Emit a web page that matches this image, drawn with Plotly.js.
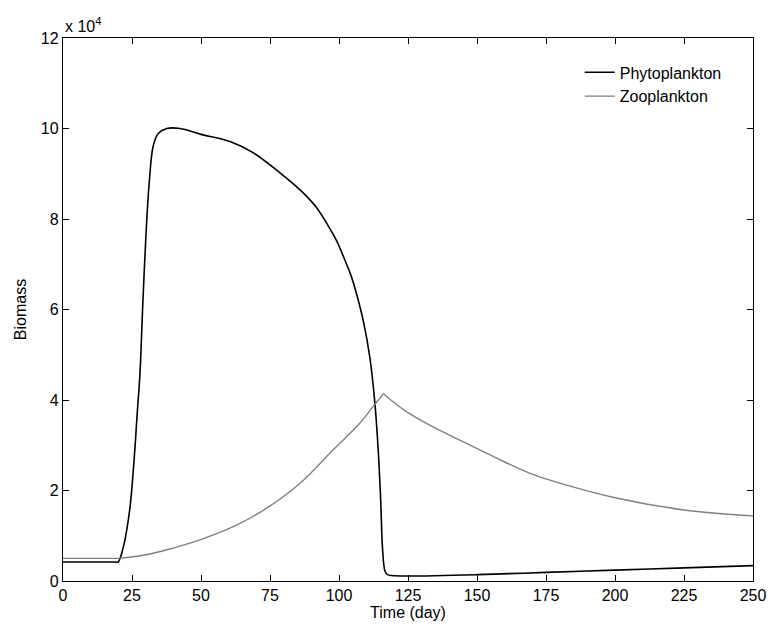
<!DOCTYPE html>
<html>
<head>
<meta charset="utf-8">
<script src="https://cdn.plot.ly/plotly-3.0.1.min.js"></script>
<style>html,body{margin:0;padding:0;background:#fff;}#chart{width:770px;height:626px;}</style>
</head>
<body>
<div id="chart"></div>
<script>
// Biomass values in units of 10^4
const phytoDays = [0, 19, 20, 21.9, 23.1, 24.3, 25.2, 26.1, 26.9, 27.9, 28.9, 30.1, 31.3, 32.7, 34.5, 37.6, 42.4, 50, 60.5, 69, 78.6, 84.7, 88.3, 91.9, 95.5, 99.2, 101.6, 104, 105.2, 108.8, 111.2, 113, 114.2, 115.1, 115.8, 116.7, 117.6, 119.1, 125, 150, 175, 200, 225, 250];
const phytoVals = [0.42, 0.42, 0.42, 0.76, 1.13, 1.64, 2.23, 2.97, 3.71, 4.6, 6.1, 7.7, 8.85, 9.62, 9.89, 10.0, 10.0, 9.87, 9.71, 9.46, 9.02, 8.71, 8.50, 8.25, 7.91, 7.51, 7.17, 6.81, 6.59, 5.75, 4.93, 3.93, 2.90, 1.79, 0.69, 0.21, 0.14, 0.12, 0.11, 0.14, 0.19, 0.24, 0.29, 0.34];
const zooDays = [0, 19, 20, 30, 37.6, 49.6, 61.7, 73.8, 85.9, 97.9, 107.6, 112.4, 115.2, 116.1, 117, 125, 133, 151, 158.3, 169.2, 176.4, 200, 225, 250];
const zooVals = [0.5, 0.5, 0.5, 0.58, 0.69, 0.91, 1.20, 1.61, 2.16, 2.90, 3.49, 3.86, 4.07, 4.14, 4.09, 3.72, 3.44, 2.90, 2.68, 2.38, 2.23, 1.84, 1.57, 1.44];
const xTicks = [0, 25, 50, 75, 100, 125, 150, 175, 200, 225, 250];
const yTicks = [0, 2, 4, 6, 8, 10, 12];

const fam = 'Liberation Sans, Arial, sans-serif';
const font = {family: fam, size: 16, color: '#000'};

const traces = [
  {x: phytoDays, y: phytoVals, mode: 'lines', name: 'Phytoplankton', line: {color: '#000000', width: 1.6, shape: 'spline', smoothing: 1}},
  {x: zooDays, y: zooVals, mode: 'lines', name: 'Zooplankton', line: {color: '#808080', width: 1.4, shape: 'spline', smoothing: 1}}
];

const axisCommon = {
  showline: true, linecolor: '#000', linewidth: 1.2, mirror: 'ticks',
  ticks: 'inside', ticklen: 6, tickcolor: '#000', tickwidth: 1,
  showgrid: false, zeroline: false, tickfont: font
};

const layout = {
  width: 770, height: 626,
  margin: {l: 63, r: 17, t: 38, b: 45},
  paper_bgcolor: '#fff', plot_bgcolor: '#fff',
  font: font,
  xaxis: Object.assign({}, axisCommon, {
    range: [0, 250], tickvals: xTicks, ticktext: xTicks.map(String),
    title: {text: 'Time (day)', font: {family: fam, size: 16, color: '#000'}, standoff: 2}
  }),
  yaxis: Object.assign({}, axisCommon, {
    range: [0, 12], tickvals: yTicks, ticktext: yTicks.map(String),
    title: {text: 'Biomass', font: {family: fam, size: 16, color: '#000'}, standoff: 10}
  }),
  showlegend: true,
  legend: {
    x: 0.962, y: 0.968, xanchor: 'right', yanchor: 'top',
    bgcolor: 'rgba(0,0,0,0)', borderwidth: 0,
    font: {family: fam, size: 16, color: '#000'},
    tracegroupgap: 0
  },
  annotations: [{
    text: 'x 10<sup>4</sup>', xref: 'paper', yref: 'paper', x: 0, y: 1,
    xanchor: 'left', yanchor: 'bottom', showarrow: false,
    font: {family: fam, size: 16, color: '#000'}, yshift: 1
  }]
};

Plotly.newPlot('chart', traces, layout, {displayModeBar: false, staticPlot: true});
</script>
</body>
</html>
